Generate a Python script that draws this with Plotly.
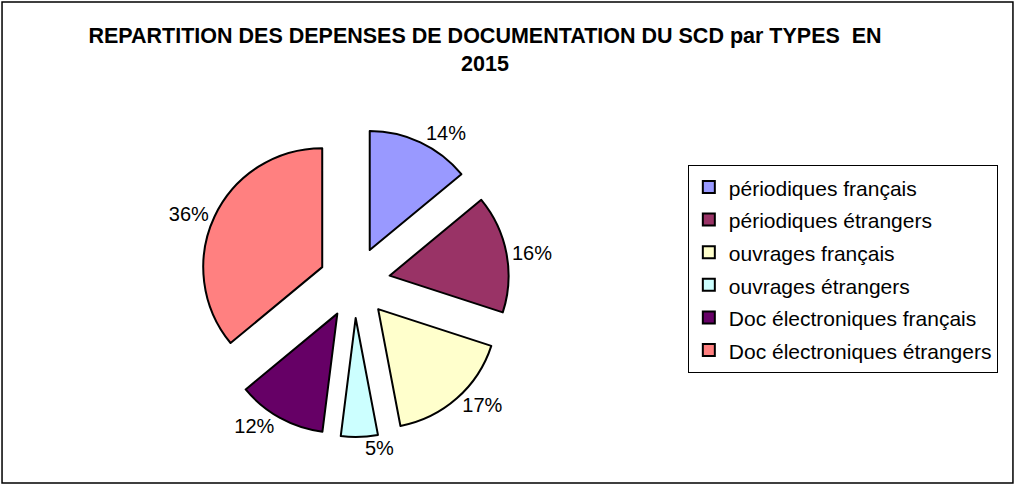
import plotly.graph_objects as go

categories = [
    "périodiques français",
    "périodiques étrangers",
    "ouvrages français",
    "ouvrages étrangers",
    "Doc électroniques français",
    "Doc électroniques étrangers",
]
values = [14, 16, 17, 5, 12, 36]
colors = ["#9999FF", "#993366", "#FFFFCC", "#CCFFFF", "#660066", "#FF8080"]
title_text = "REPARTITION DES DEPENSES DE DOCUMENTATION DU SCD par TYPES  EN<br>2015"

FONT = "Liberation Sans, Arial, sans-serif"

legend_labels = [f'<span style="font-size:21px">{c}</span>' for c in categories]

fig = go.Figure(
    go.Pie(
        labels=legend_labels,
        values=values,
        sort=False,
        direction="clockwise",
        rotation=0,
        pull=[0.3] * len(values),
        marker=dict(colors=colors, line=dict(color="black", width=2)),
        textposition="outside",
        texttemplate="%{percent:.0%}",
        textfont=dict(family=FONT, size=20, color="black"),
        hoverinfo="label+percent",
        domain=dict(x=[0.1967, 0.5012], y=[0.0970, 0.7363]),
    )
)

fig.update_layout(
    width=1016,
    height=484,
    autosize=False,
    margin=dict(l=0, r=0, t=0, b=0, autoexpand=False),
    paper_bgcolor="white",
    plot_bgcolor="white",
    font=dict(family=FONT, color="black"),
    title=dict(
        text=title_text,
        x=0.4774,
        xanchor="center",
        y=0.912,
        yanchor="top",
        font=dict(family=FONT, size=21.5, color="black", weight="bold"),
    ),
    legend=dict(
        x=0.677,
        y=0.66,
        xanchor="left",
        yanchor="top",
        bordercolor="black",
        borderwidth=1,
        bgcolor="white",
        font=dict(family=FONT, size=22.8, color="black"),
    ),
    shapes=[
        dict(
            type="rect",
            xref="paper",
            yref="paper",
            x0=0.002,
            x1=0.997,
            y0=0.002,
            y1=0.996,
            line=dict(color="black", width=1.5),
        )
    ],
)

fig.write_html(
    "out.html",
    config={"displayModeBar": False},
    post_script="document.body.style.margin='0px';",
)
